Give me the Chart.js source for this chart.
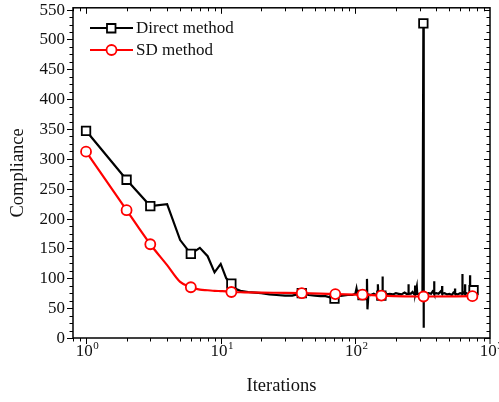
<!DOCTYPE html>
<html>
<head>
<meta charset="utf-8">
<script src="https://cdn.jsdelivr.net/npm/chart.js@4/dist/chart.umd.min.js"></script>
<style>
  body { margin: 0; background: #fff; }
  #wrap { width: 499px; height: 402px; }
</style>
</head>
<body>
<div id="wrap"><canvas id="compChart" width="499" height="402"></canvas></div>
<script>
// Direct method: compliance per iteration (noisy tail after ~100 its)
const directIter = [1, 2, 3, 4, 5, 6, 7, 8, 9, 10, 11, 12, 13, 14, 16, 18, 20, 23, 26, 30, 34,
  40, 45, 50, 55, 60, 65, 70, 75, 80, 88, 95, 100, 102, 104, 108, 113, 118, 121, 122, 123, 125,
  130, 137, 143, 146, 147, 148, 152, 156, 158, 159, 160, 166, 172, 180, 190, 200, 210, 220, 232, 240,
  247, 248, 249, 258, 266, 272, 277, 278, 279, 286, 288, 295, 305, 315, 320, 321, 323, 335, 350, 365,
  375, 384, 385, 386, 400, 415, 430, 440, 441, 442, 460, 480, 500, 520, 535, 549, 550, 551, 575, 600, 623, 624,
  625, 640, 652, 653, 654, 670, 690, 710, 711, 712, 730, 755];
const directComp = [347, 265, 221, 224, 164, 141, 151, 137, 110, 124, 100, 91, 82, 79, 77, 76, 75, 73, 72, 71, 71,
  75, 72, 71, 70, 70, 68, 66, 70, 71, 72, 72, 74, 83, 72, 73, 72, 73, 72, 99, 48, 73,
  72, 74, 72, 73, 90, 73, 72, 71, 72, 103, 72, 76, 73, 74, 73, 75, 74, 73, 76, 74,
  74, 90, 75, 74, 77, 74, 75, 88, 75, 86, 74, 74, 73, 72, 527, 17, 72, 74, 75, 74,
  78, 75, 95, 74, 75, 74, 78, 75, 87, 74, 75, 73, 74, 72, 76, 74, 83, 74, 73, 75, 74, 107,
  74, 76, 74, 90, 74, 75, 73, 74, 105, 74, 75, 80];
const directMarks = [1, 2, 3, 6, 12, 40, 70, 113, 156, 320, 755];

// SD method
const sdIter = [1, 2, 3, 4, 5, 6, 7, 8, 9, 10, 11, 12, 15, 20, 30, 40, 71, 113, 156, 321, 740];
const sdComp = [312, 214, 157, 122, 94, 85, 81, 80, 79, 78.5, 78, 77, 76.5, 76, 75.5, 75, 73.5, 72.5, 71, 69.5, 70];
const sdMarks = [1, 2, 3, 6, 12, 40, 71, 113, 156, 321, 740];

const xMin = 0.8, xMax = 1000;
const yMin = 0, yMax = 553;
const yMajor = 50, yMinor = 12.5;
const decades = [1, 10, 100, 1000];

const serif = '"Liberation Serif", "Times New Roman", serif';

function toPoints(xs, ys) {
  return xs.map((v, i) => ({ x: v, y: ys[i] }));
}

function seg(ctx, x1, y1, x2, y2) {
  ctx.beginPath();
  ctx.moveTo(x1, y1);
  ctx.lineTo(x2, y2);
  ctx.stroke();
}

// frame, ticks, labels and legend drawn by hand (origin-like axes)
const axesPlugin = {
  id: 'axesPlugin',
  afterDraw(chart) {
    const { ctx, chartArea: a, scales } = chart;
    const x = scales.x, y = scales.y;
    ctx.save();
    ctx.strokeStyle = '#000';
    ctx.fillStyle = '#111';
    ctx.lineWidth = 1.5;
    ctx.strokeRect(a.left, a.top, a.right - a.left, a.bottom - a.top);

    // y axis
    ctx.lineWidth = 1;
    ctx.font = '17px ' + serif;
    ctx.textAlign = 'right';
    ctx.textBaseline = 'middle';
    for (let v = yMin; v <= yMax; v += yMinor) {
      const py = Math.round(y.getPixelForValue(v)) + 0.5;
      const major = v % yMajor === 0;
      const len = major ? 6 : 3.5;
      seg(ctx, a.left - len, py, a.left, py);
      seg(ctx, a.right - len, py, a.right, py);
      if (major) ctx.fillText(String(v), a.left - 8, py);
    }

    // x axis (log)
    for (let d = 0.1; d < xMax; d *= 10) {
      for (let m = 1; m <= 9; m++) {
        const v = Math.round(m * d * 1000) / 1000;
        if (v < xMin || v > xMax) continue;
        const px = Math.round(x.getPixelForValue(v)) + 0.5;
        const major = m === 1;
        const len = major ? 6 : 3.5;
        seg(ctx, px, a.bottom, px, a.bottom + len);
        seg(ctx, px, a.top, px, a.top + len);
      }
    }
    const last = x.getPixelForValue(xMax);
    seg(ctx, last, a.bottom, last, a.bottom + 6);

    ctx.textAlign = 'left';
    ctx.textBaseline = 'alphabetic';
    decades.forEach(v => {
      const px = x.getPixelForValue(v);
      const exp = String(Math.round(Math.log10(v)));
      ctx.font = '17px ' + serif;
      const wBase = ctx.measureText('10').width;
      ctx.font = '11px ' + serif;
      const wExp = ctx.measureText(exp).width;
      const left = px - (wBase + wExp) / 2 + 1;
      ctx.font = '17px ' + serif;
      ctx.fillText('10', left, a.bottom + 18);
      ctx.font = '11px ' + serif;
      ctx.fillText(exp, left + wBase + 0.5, a.bottom + 11);
    });

    // axis titles
    ctx.font = '18.5px ' + serif;
    ctx.textAlign = 'center';
    ctx.fillText('Iterations', (a.left + a.right) / 2, 391);
    ctx.save();
    ctx.translate(18, (a.top + a.bottom) / 2);
    ctx.rotate(-Math.PI / 2);
    ctx.textBaseline = 'middle';
    ctx.fillText('Compliance', 0, 0);
    ctx.restore();

    // legend
    const items = [
      { ds: chart.data.datasets[1], y: 28 },
      { ds: chart.data.datasets[0], y: 50 }
    ];
    items.forEach(it => {
      const ds = it.ds;
      ctx.strokeStyle = ds.borderColor;
      ctx.lineWidth = 2.2;
      seg(ctx, 90, it.y, 133, it.y);
      ctx.lineWidth = 1.8;
      ctx.fillStyle = '#fff';
      ctx.beginPath();
      if (ds.pointStyle === 'rect') {
        ctx.rect(107, it.y - 4, 8.5, 8.5);
      } else {
        ctx.arc(111.5, it.y, 5, 0, Math.PI * 2);
      }
      ctx.fill();
      ctx.stroke();
      ctx.fillStyle = '#111';
      ctx.font = '17px ' + serif;
      ctx.textAlign = 'left';
      ctx.textBaseline = 'middle';
      ctx.fillText(ds.label, 136, it.y + 1);
    });
    ctx.restore();
  }
};

new Chart(document.getElementById('compChart').getContext('2d'), {
  type: 'scatter',
  data: {
    datasets: [
      {
        label: 'SD method',
        data: toPoints(sdIter, sdComp),
        showLine: true,
        cubicInterpolationMode: 'monotone',
        borderColor: '#ff0000',
        borderWidth: 2.2,
        pointStyle: 'circle',
        pointBackgroundColor: '#fff',
        pointBorderColor: '#ff0000',
        pointBorderWidth: 1.8,
        pointRadius: c => sdMarks.includes(c.raw.x) ? 5 : 0,
        order: 0
      },
      {
        label: 'Direct method',
        data: toPoints(directIter, directComp),
        showLine: true,
        borderColor: '#000',
        borderWidth: 2.2,
        pointStyle: 'rect',
        pointBackgroundColor: '#fff',
        pointBorderColor: '#000',
        pointBorderWidth: 1.8,
        pointRadius: c => directMarks.includes(c.raw.x) ? 6 : 0,
        order: 1
      }
    ]
  },
  options: {
    responsive: false,
    animation: false,
    events: [],
    layout: { padding: { left: 73, right: 9, top: 5, bottom: 64 } },
    plugins: { legend: { display: false }, tooltip: { enabled: false } },
    scales: {
      x: { type: 'logarithmic', min: xMin, max: xMax, display: false },
      y: { type: 'linear', min: yMin, max: yMax, display: false }
    }
  },
  plugins: [axesPlugin]
});
</script>
</body>
</html>
